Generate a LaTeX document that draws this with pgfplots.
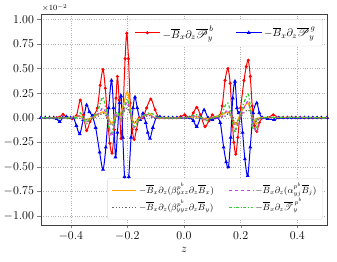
\documentclass[border=0pt]{standalone}
\usepackage{pgfplots}
\pgfplotsset{compat=1.18}
\usepackage{mathrsfs}
\definecolor{lgreen}{RGB}{50,205,50}
\definecolor{lorange}{RGB}{255,165,0}
\definecolor{lmag}{RGB}{200,70,230}
\begin{document}
\begin{tikzpicture}
\pgfplotsset{every axis/.append style={scale only axis, width=286pt, height=211pt,
  xmin=-0.505, xmax=0.505, ymin=-1.09, ymax=1.055}}
\begin{axis}[
  xtick={-0.4,-0.2,0,0.2,0.4},
  xticklabels={$-0.4$,$-0.2$,$0.0$,$0.2$,$0.4$},
  ytick={-1,-0.75,-0.5,-0.25,0,0.25,0.5,0.75,1},
  yticklabels={$-1.00$,$-0.75$,$-0.50$,$-0.25$,$0.00$,$0.25$,$0.50$,$0.75$,$1.00$},
  tick label style={font=\fontsize{11.5}{12}\selectfont},
  tick align=outside, tick pos=left,
  axis line style={black!75},
  major tick length=3.5pt,
  grid=major, grid style={dotted, gray!60},
  xlabel={$z$}, xlabel style={font=\fontsize{13}{14}\selectfont, yshift=0pt},
  legend style={at={(0.985,0.975)}, anchor=north east, legend columns=2,
    font=\fontsize{11}{13}\selectfont, draw=gray!30, rounded corners=2pt,
    inner ysep=4.5pt, inner xsep=5pt,
    /tikz/every even column/.append style={column sep=20pt}},
  legend cell align=left,
  legend image code/.code={\draw[mark repeat=2,mark phase=2,#1] plot coordinates {(0cm,0cm)(0.45cm,0cm)(0.9cm,0cm)};},
]
\addplot[red, line width=1pt, smooth, mark=*, mark size=1.0pt] coordinates {
(-0.505,0) (-0.49,0) (-0.475,0) (-0.46,0) (-0.45,0) (-0.44,0.005) (-0.427,0.035) (-0.412,0) (-0.395,-0.01) (-0.38,0.02)
(-0.366,0.18) (-0.355,0.03) (-0.344,-0.13) (-0.332,-0.04) (-0.32,0.02) (-0.306,0.1) (-0.296,0.33)
(-0.286,0.49) (-0.278,0.3) (-0.27,0.0) (-0.262,-0.26) (-0.254,-0.36) (-0.246,-0.12) (-0.24,0.2)
(-0.235,0.42) (-0.229,0.18) (-0.222,-0.21) (-0.215,0.1) (-0.208,0.6) (-0.202,0.86) (-0.196,0.6)
(-0.19,0.15) (-0.183,-0.12) (-0.176,-0.22) (-0.168,-0.12) (-0.158,0.0) (-0.145,0.0) (-0.132,0.1)
(-0.117,0.19) (-0.102,0.08) (-0.088,0.0) (-0.07,0.0) (-0.055,0) (-0.04,0) (-0.025,0) (-0.012,0.01) (0.003,0.03)
(0.02,0.0) (0.033,0.05) (0.045,0.105) (0.058,0.03) (0.074,-0.09) (0.088,-0.03) (0.1,0.03) (0.112,0.0)
(0.125,0.02) (0.135,0.12) (0.145,0.38) (0.155,0.50) (0.163,0.35) (0.17,0.0) (0.176,-0.25) (0.183,-0.37)
(0.19,-0.2) (0.2,0.1) (0.212,0.38) (0.22,0.52) (0.227,0.585) (0.234,0.42) (0.241,0.12) (0.249,-0.08)
(0.257,-0.14) (0.266,-0.05) (0.278,0.0) (0.295,0.0) (0.315,0.03) (0.335,0.0) (0.35,0) (0.365,0) (0.38,0)
(0.395,0) (0.41,0) (0.425,0) (0.44,0) (0.455,0) (0.47,0) (0.485,0) (0.505,0)};
\addlegendentry{$-\overline{B}_x\partial_z\overline{\mathscr{P}}^{\,b}_{y}$}
\addplot[blue, line width=1pt, smooth, mark=triangle*, mark size=1.3pt] coordinates {
(-0.505,0) (-0.49,0) (-0.475,0) (-0.46,0) (-0.45,-0.01) (-0.439,-0.04) (-0.428,0) (-0.415,0.01) (-0.4,0.0)
(-0.39,0.0) (-0.38,-0.08) (-0.368,-0.165) (-0.356,-0.02) (-0.344,0.13) (-0.334,0.06) (-0.324,0.02)
(-0.312,-0.1) (-0.298,-0.35) (-0.286,-0.525) (-0.276,-0.3) (-0.266,0.1) (-0.256,0.38) (-0.249,0.1)
(-0.242,-0.40) (-0.235,-0.15) (-0.228,0.15) (-0.222,0.22) (-0.216,-0.2) (-0.21,-0.6) (-0.203,-0.855)
(-0.195,-0.6) (-0.187,-0.2) (-0.18,0.1) (-0.173,0.21) (-0.165,0.1) (-0.155,-0.02) (-0.145,0.045)
(-0.135,-0.05) (-0.128,-0.15) (-0.12,-0.21) (-0.11,-0.1) (-0.098,0.0) (-0.085,0.01) (-0.07,0.0)
(-0.055,0) (-0.04,0) (-0.025,0) (-0.01,0) (0.005,0) (0.02,0.0) (0.033,-0.03) (0.045,-0.09) (0.058,0.0) (0.071,0.08)
(0.085,0.0) (0.1,-0.02) (0.115,0.0) (0.128,-0.05) (0.14,-0.3) (0.149,-0.45) (0.157,-0.50) (0.165,-0.2)
(0.172,0.2) (0.18,0.37) (0.187,0.1) (0.193,0.05) (0.2,0.05) (0.207,-0.15) (0.215,-0.42) (0.225,-0.59)
(0.234,-0.3) (0.244,0.05) (0.257,0.15) (0.266,0.05) (0.276,0.0) (0.295,-0.01) (0.318,-0.02) (0.335,0.0)
(0.35,0) (0.365,0) (0.38,0) (0.395,0) (0.41,0) (0.425,0) (0.44,0) (0.455,0) (0.47,0) (0.485,0) (0.505,0)};
\addlegendentry{$-\overline{B}_x\partial_z\overline{\mathscr{P}}^{\,g}_{y}$}
\end{axis}
\begin{axis}[
  hide axis,
  legend style={at={(0.985,0.025)}, anchor=south east, legend columns=2,
    font=\fontsize{9}{11}\selectfont, draw=gray!30, rounded corners=2pt,
    inner ysep=3.5pt, inner xsep=4pt,
    nodes={text height=9pt, text depth=4pt},
    /tikz/every even column/.append style={column sep=12pt}},
  legend cell align=left,
  legend image code/.code={\draw[#1] (0cm,0cm) -- (0.85cm,0cm);},
]
\addlegendimage{color=lorange, solid, line width=1.3pt}
\addlegendentry{$-\overline{B}_x\partial_z(\beta^{p^b}_{yxz}\partial_z\overline{B}_x)$}
\addlegendimage{color=lmag, dashed, line width=1.3pt}
\addlegendentry{$-\overline{B}_x\partial_z(\alpha^{p^b}_{yj}\overline{B}_j)$}
\addlegendimage{color=gray!80!black, dotted, line width=1.3pt}
\addlegendentry{$-\overline{B}_x\partial_z(\beta^{p^b}_{yyz}\partial_z\overline{B}_y)$}
\addlegendimage{color=lgreen, dash dot, line width=1.4pt}
\addlegendentry{$-\overline{B}_x\partial_z\overline{\mathscr{T}}^{\,p^b}_{y}$}
\addplot[lorange, line width=1.2pt, smooth, forget plot] coordinates {
(-0.505,0) (-0.4,0) (-0.37,0.02) (-0.344,-0.02) (-0.3,0.04) (-0.286,0.06) (-0.27,0.02) (-0.255,-0.06)
(-0.24,0.03) (-0.228,0.02) (-0.215,0.12) (-0.2,0.265) (-0.19,0.1) (-0.178,-0.05) (-0.165,-0.02)
(-0.14,0.02) (-0.12,0.04) (-0.1,0.0) (0.0,0) (0.045,0.01) (0.074,-0.01) (0.1,0) (0.14,0.04) (0.155,0.06)
(0.17,0.0) (0.183,-0.07) (0.2,0.05) (0.215,0.12) (0.227,0.15) (0.24,0.02) (0.255,-0.06) (0.27,0.0) (0.505,0)};
\addplot[lmag, line width=1.2pt, dashed, smooth, forget plot] coordinates {
(-0.505,0) (-0.4,0) (-0.37,0.02) (-0.344,-0.04) (-0.3,0.05) (-0.286,0.1) (-0.27,0.0) (-0.256,-0.19)
(-0.245,-0.08) (-0.235,0.05) (-0.222,0.0) (-0.21,0.1) (-0.2,0.16) (-0.19,0.05) (-0.178,-0.1)
(-0.165,-0.05) (-0.14,0.02) (-0.12,0.03) (-0.1,0) (0.0,0) (0.045,0.02) (0.074,-0.02) (0.1,0) (0.13,0.0) (0.145,0.05)
(0.155,0.08) (0.17,0.0) (0.183,-0.12) (0.195,-0.03) (0.215,0.12) (0.227,0.16) (0.24,0.0) (0.255,-0.15)
(0.265,-0.08) (0.28,0) (0.505,0)};
\addplot[gray!80!black, line width=1.2pt, dotted, smooth, forget plot] coordinates {
(-0.505,0) (-0.38,0) (-0.344,-0.02) (-0.3,0.02) (-0.286,0.05) (-0.27,0.0) (-0.256,-0.08) (-0.235,0.02)
(-0.215,0.05) (-0.2,0.1) (-0.188,0.02) (-0.176,-0.05) (-0.155,0.0) (-0.12,0.02) (-0.1,0) (0.12,0)
(0.155,0.04) (0.17,0.0) (0.183,-0.05) (0.205,0.03) (0.227,0.08) (0.242,0.0) (0.257,-0.05) (0.275,0) (0.505,0)};
\addplot[lgreen, line width=1.3pt, dash dot, smooth, forget plot] coordinates {
(-0.505,0) (-0.38,0) (-0.366,0.05) (-0.344,-0.06) (-0.33,0) (-0.31,0.04) (-0.295,0.15) (-0.286,0.21)
(-0.275,0.08) (-0.265,-0.1) (-0.256,-0.16) (-0.246,-0.05) (-0.238,0.06) (-0.23,0.03) (-0.222,-0.03)
(-0.212,0.1) (-0.2,0.19) (-0.19,0.06) (-0.182,-0.06) (-0.173,-0.09) (-0.162,-0.03) (-0.145,0.02)
(-0.12,0.05) (-0.1,0.02) (-0.08,0.0) (0.0,0) (0.045,0.03) (0.074,-0.03) (0.1,0) (0.13,0.03) (0.145,0.12)
(0.155,0.15) (0.165,0.05) (0.18,-0.14) (0.19,-0.05) (0.205,0.1) (0.215,0.18) (0.227,0.24) (0.235,0.1)
(0.243,-0.1) (0.252,-0.13) (0.262,-0.06) (0.275,0.0) (0.505,0)};
\end{axis}
\node[anchor=south west, font=\fontsize{8}{9}\selectfont, inner sep=1pt] at ([yshift=1pt]current axis.north west) {$\times10^{-2}$};
\pgfresetboundingbox
\path ([shift={(-41pt,-37pt)}]current axis.south west) rectangle ([shift={(10pt,14pt)}]current axis.north east);
\end{tikzpicture}
\end{document}
